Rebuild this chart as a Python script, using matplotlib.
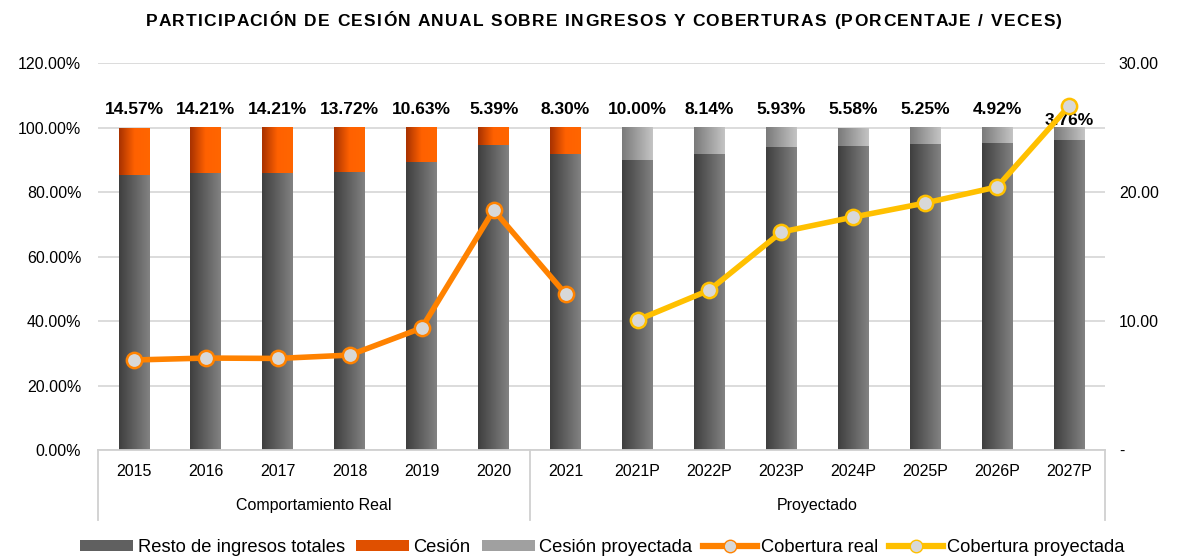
import matplotlib.pyplot as plt
import numpy as np
from matplotlib.patches import Patch
from matplotlib.lines import Line2D
from matplotlib.colors import LinearSegmentedColormap
from matplotlib.ticker import FuncFormatter
import matplotlib.transforms as mtransforms

plt.rcParams['font.family'] = ['Liberation Sans', 'DejaVu Sans']

years = ['2015', '2016', '2017', '2018', '2019', '2020', '2021',
         '2021P', '2022P', '2023P', '2024P', '2025P', '2026P', '2027P']
cesion = [14.57, 14.21, 14.21, 13.72, 10.63, 5.39, 8.30,
          10.00, 8.14, 5.93, 5.58, 5.25, 4.92, 3.76]
proyectado = [False] * 7 + [True] * 7
cob_real = [6.98, 7.13, 7.1, 7.36, 9.46, 18.6, 12.1]
cob_proy = [10.08, 12.4, 16.9, 18.06, 19.15, 20.4, 26.67]
grupos = ['Comportamiento Real', 'Proyectado']
titulo = 'PARTICIPACIÓN DE CESIÓN ANUAL SOBRE INGRESOS Y COBERTURAS (PORCENTAJE / VECES)'

resto = [100 - c for c in cesion]
x = np.arange(len(years))

fig = plt.figure(figsize=(11.81, 5.58), dpi=100)
ax = fig.add_axes([0.083, 0.1935, 0.8527, 0.6935])
ax2 = ax.twinx()

cm_gray = LinearSegmentedColormap.from_list('g', ['#3f3f3f', '#828282'])
cm_org = LinearSegmentedColormap.from_list('o', ['#a83200', '#ff6100', '#ff6600'])
cm_lgray = LinearSegmentedColormap.from_list('lg', ['#7a7a7a', '#c4c4c4'])

w = 0.43
b1 = ax.bar(x, resto, width=w, color='none')
b2 = ax.bar(x, cesion, width=w, bottom=resto, color='none')
grad = np.linspace(0, 1, 64).reshape(1, -1)
for i in range(len(x)):
    for p, cm in [(b1[i], cm_gray), (b2[i], cm_lgray if proyectado[i] else cm_org)]:
        x0, y0 = p.get_x(), p.get_y()
        ax.imshow(grad, extent=[x0, x0 + p.get_width(), y0, y0 + p.get_height()],
                  aspect='auto', cmap=cm, zorder=2, interpolation='bicubic')

ax.set_xlim(-0.5, 13.5)
ax.set_ylim(0, 120)
ax.set_yticks(np.arange(0, 121, 20))
ax.yaxis.set_major_formatter(FuncFormatter(lambda v, p: '%.2f%%' % v))
ax.grid(axis='y', color='#d9d9d9', linewidth=1.3, zorder=0)
ax.set_axisbelow(True)
for s in ['top', 'left', 'right']:
    ax.spines[s].set_visible(False)
ax.spines['bottom'].set_color('#d0d0d0')
ax.spines['bottom'].set_linewidth(1.3)
ax.tick_params(axis='both', length=0, labelsize=11.5, colors='#000000')
ax.tick_params(axis='y', pad=12)
ax.set_xticks(x)
ax.set_xticklabels(years)
ax.tick_params(axis='x', pad=10)

for i, c in enumerate(cesion):
    last = i == len(cesion) - 1
    ax.text(x[i], 100 if last else 103.2, '%.2f%%' % c,
            ha='center', va='bottom', fontsize=12.5, fontweight='bold', zorder=6)

ax2.set_ylim(0, 30)
ax2.set_yticks(np.arange(0, 31, 10))
ax2.yaxis.set_major_formatter(FuncFormatter(lambda v, p: '-' if v == 0 else '%.2f' % v))
ax2.tick_params(axis='y', length=0, labelsize=11.5, pad=10)
for s in ['top', 'left', 'right', 'bottom']:
    ax2.spines[s].set_visible(False)

ax2.plot(x[:7], cob_real, color='#ff8200', linewidth=4, marker='o', markersize=11,
         markerfacecolor='#d8d8d8', markeredgecolor='#ff8200', markeredgewidth=1.8, zorder=5)
ax2.plot(x[7:], cob_proy, color='#ffc000', linewidth=4, marker='o', markersize=11,
         markerfacecolor='#d8d8d8', markeredgecolor='#ffc000', markeredgewidth=1.8, zorder=5)

# group separators and labels
trans = mtransforms.blended_transform_factory(ax.transData, ax.transAxes)
for xs in [-0.5, 5.5, 13.5]:
    ax.plot([xs, xs], [0, -0.18], transform=trans, color='#d0d0d0', linewidth=1.3, clip_on=False)
ax.text(2.5, -0.143, grupos[0], transform=trans, ha='center', va='center', fontsize=11.5)
ax.text(9.5, -0.143, grupos[1], transform=trans, ha='center', va='center', fontsize=11.5)

# title with letter spacing
renderer = fig.canvas.get_renderer()
tprops = dict(fontsize=12.5, fontweight='bold')
def width_px(s):
    t = fig.text(0, 0, s, **tprops)
    wpx = t.get_window_extent(renderer).width
    t.remove()
    return wpx
bar_w = width_px('|')
offs = [width_px(titulo[:i] + '|') - bar_w for i in range(len(titulo))]
total_nat = width_px(titulo)
target = 916
spacing = (target - total_nat) / (len(titulo) - 1)
x_start = 604 - target / 2
W = fig.get_figwidth() * fig.dpi
for i, ch in enumerate(titulo):
    if ch == ' ':
        continue
    fig.text((x_start + offs[i] + i * spacing) / W, 0.9606, ch, ha='left', va='center', **tprops)

handles = [Patch(facecolor='#606060'), Patch(facecolor='#e05000'), Patch(facecolor='#a0a0a0'),
           Line2D([], [], color='#ff8200', linewidth=4.5, marker='o', markersize=9,
                  markerfacecolor='#d8d8d8', markeredgecolor='#ff8200'),
           Line2D([], [], color='#ffc000', linewidth=4.5, marker='o', markersize=9,
                  markerfacecolor='#d8d8d8', markeredgecolor='#ffc000')]
labels = ['Resto de ingresos totales', 'Cesión', 'Cesión proyectada', 'Cobertura real', 'Cobertura proyectada']
fig.legend(handles, labels, loc='center', bbox_to_anchor=(0.51, 0.018), ncol=5, frameon=False,
           prop={'size': 13.2}, handlelength=2.9, handletextpad=0.25, columnspacing=0.6,
           handleheight=0.55, borderaxespad=0, borderpad=0)

fig.savefig('out.png', dpi=100)
